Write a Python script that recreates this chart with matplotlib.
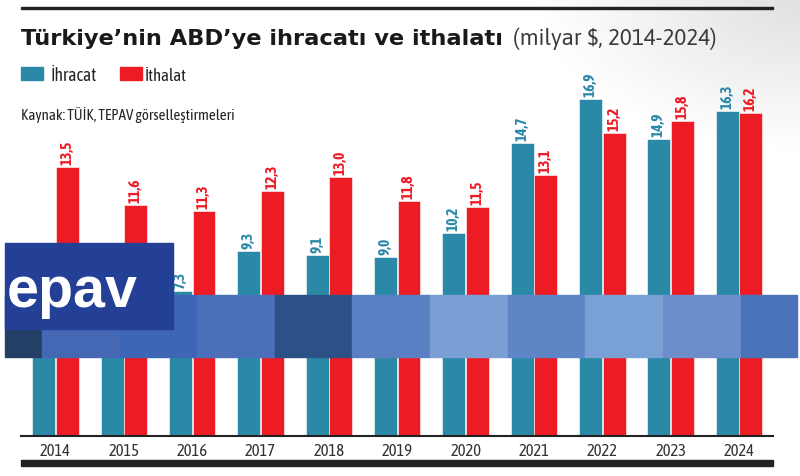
import numpy as np
import matplotlib
matplotlib.use("Agg")
import matplotlib.pyplot as plt
from matplotlib.patches import Rectangle

years = ["2014", "2015", "2016", "2017", "2018", "2019", "2020", "2021", "2022", "2023", "2024"]
ihracat = [6.3, 6.4, 7.3, 9.3, 9.1, 9.0, 10.2, 14.7, 16.9, 14.9, 16.3]
ithalat = [13.5, 11.6, 11.3, 12.3, 13.0, 11.8, 11.5, 13.1, 15.2, 15.8, 16.2]
series_names = ["İhracat", "İthalat"]
title = "Türkiye’nin ABD’ye ihracatı ve ithalatı"
subtitle = "(milyar $, 2014-2024)"
source = "Kaynak: TÜİK, TEPAV görselleştirmeleri"
logo_text = "epav"

TEAL = "#2b89a8"
RED = "#ed1c24"
DARK = "#222222"
COND = ["Asap Condensed", "Archivo Narrow", "DejaVu Sans"]
WIDE = ["Asap", "DejaVu Sans"]

W, H = 800, 477
fig = plt.figure(figsize=(W / 100, H / 100), dpi=100)


def fx(px):
    return px / W


def fy(py):
    return 1 - py / H


def fit_width(txt, target_px):
    fig.canvas.draw()
    w = txt.get_window_extent().width
    txt.set_fontsize(txt.get_fontsize() * target_px / w)


# background gradient (top right grey)
bg = fig.add_axes([0, 0, 1, 1], zorder=-10)
bg.axis("off")
xx, yy = np.meshgrid(np.arange(W), np.arange(H))
d = np.sqrt(((W - xx) / 260.0) ** 2 + (yy / 150.0) ** 2)
g = 1 - 0.12 * np.clip(1 - d, 0, 1)
bg.imshow(np.dstack([g, g, g]), extent=[0, W, H, 0], aspect="auto")
bg.set_xlim(0, W)
bg.set_ylim(H, 0)

PX_PER_UNIT = 19.92
ax = fig.add_axes([fx(21), fy(437), 752 / W, (437 - 90) / H])
ax.set_facecolor("none")
x = np.arange(len(years))
bw = 0.335
off = 0.172
ax.bar(x - off, ihracat, bw, color=TEAL, edgecolor="white", linewidth=0.4, zorder=2)
ax.bar(x + off, ithalat, bw, color=RED, edgecolor="white", linewidth=0.4, zorder=2)
ax.set_xlim(-0.505, 10.497)
ax.set_ylim(0, 347 / PX_PER_UNIT)
pad = 3 / PX_PER_UNIT
for i, (xi, v) in enumerate(zip(x, ihracat)):
    if i < 2:
        continue  # hidden behind the logo in the original
    ax.text(xi - off, v + pad, f"{v:.1f}".replace(".", ","), rotation=90, ha="center", va="bottom",
            color=TEAL, fontsize=11, fontweight="bold", family=COND, clip_on=False)
for xi, v in zip(x, ithalat):
    ax.text(xi + off, v + pad, f"{v:.1f}".replace(".", ","), rotation=90, ha="center", va="bottom",
            color=RED, fontsize=11, fontweight="bold", family=COND, clip_on=False)
for s in ["top", "right", "left"]:
    ax.spines[s].set_visible(False)
ax.spines["bottom"].set_linewidth(1.5)
ax.spines["bottom"].set_color(DARK)
ax.set_yticks([])
ax.set_xticks(x)
ax.set_xticklabels(years, fontsize=12, color="#333333", family=COND)
ax.tick_params(axis="x", length=0, pad=4)

# top rule and bottom thick bar
fig.add_artist(Rectangle((fx(21), fy(10)), 752 / W, 2 / H, color=DARK, transform=fig.transFigure))
fig.add_artist(Rectangle((fx(21), fy(467)), 752 / W, 6 / H, color=DARK, transform=fig.transFigure))

# title
t = fig.text(fx(21), fy(45), title, fontsize=16, fontweight="bold", color="#1a1a1a", va="baseline",
             family="DejaVu Sans")
fit_width(t, 482)
st = fig.text(fx(513), fy(45), subtitle, fontsize=15, color="#3a3a3a", va="baseline", family=WIDE,
              fontweight="light")
fit_width(st, 204)

# legend
fig.add_artist(Rectangle((fx(21), fy(81)), 22 / W, 13 / H, color=TEAL, transform=fig.transFigure))
l1 = fig.text(fx(50), fy(81), series_names[0], fontsize=12, color="#222222", va="baseline", family=COND)
fit_width(l1, 46)
fig.add_artist(Rectangle((fx(120), fy(81)), 22 / W, 13 / H, color=RED, transform=fig.transFigure))
l2 = fig.text(fx(145), fy(81), series_names[1], fontsize=12, color="#222222", va="baseline", family=COND)
fit_width(l2, 42)

s = fig.text(fx(21), fy(120), source, fontsize=10, color="#222222", va="baseline", family=COND)
fit_width(s, 214)

# logo overlay band
segs = [(42, 120, "#4468b3"), (120, 197, "#3d66b6"), (197, 275, "#4a70ba"), (275, 352, "#2b5186"),
        (352, 430, "#5a80c3"), (430, 508, "#7a9fd5"), (508, 585, "#5e86c6"), (585, 663, "#7aa1d6"),
        (663, 741, "#6c8fcb"), (741, 797, "#4a73b9")]
fig.add_artist(Rectangle((fx(5), fy(358)), 37 / W, 62 / H, color="#233f66", transform=fig.transFigure, zorder=5))
for a, b, c in segs:
    fig.add_artist(Rectangle((fx(a), fy(358)), (b - a) / W, 62 / H, color=c, transform=fig.transFigure, zorder=5))
fig.add_artist(Rectangle((fx(5), fy(330)), 168 / W, 86 / H, color="#243f96", transform=fig.transFigure, zorder=6))
lg = fig.text(fx(7), fy(307), logo_text, fontsize=42, fontweight="bold", color="white",
              family=["Liberation Sans", "DejaVu Sans"], va="baseline", zorder=7)
fit_width(lg, 131)

fig.savefig("out.png", dpi=100)
